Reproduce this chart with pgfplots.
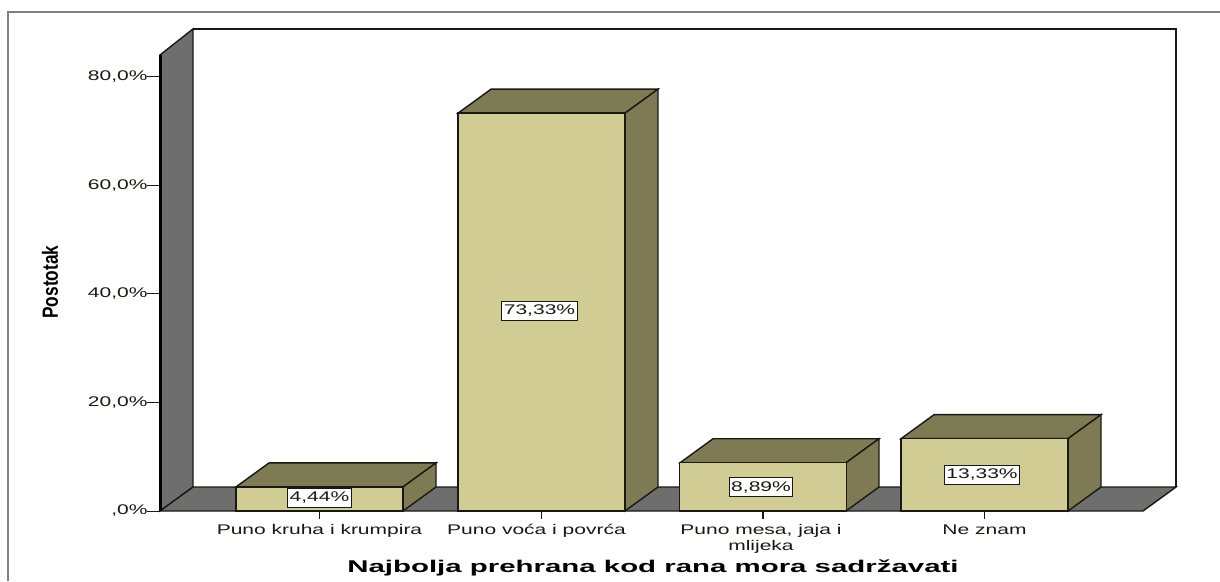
\documentclass[border=0pt]{standalone}
\usepackage{pgfplots}
\pgfplotsset{compat=1.18}
\usepackage{graphicx}
\usepackage{fontspec}
\setmainfont{Liberation Sans}
\definecolor{face}{RGB}{208,204,148}
\definecolor{dark}{RGB}{126,122,84}
\definecolor{wall}{RGB}{110,110,110}
\definecolor{frame}{RGB}{128,128,128}
\definecolor{ink}{RGB}{25,25,20}
\newcommand\sx[1]{\scalebox{1.5}[1]{#1}}
\begin{document}
\begin{tikzpicture}[x=1pt,y=1pt]
\path[use as bounding box] (0,0) rectangle (1220,581);
\draw[frame,line width=2pt] (8,0) -- (8,569) -- (1220,569);
\begin{axis}[
  at={(160pt,70pt)}, anchor=south west,
  scale only axis, width=983pt, height=456pt,
  xmin=160, xmax=1143, ymin=0, ymax=84.05,
  clip=false,
  axis line style={draw=none},
  tick align=outside, xtick pos=bottom, ytick pos=left,
  ytick={0,20,40,60,80},
  yticklabels={\sx{,0\%},\sx{20,0\%},\sx{40,0\%},\sx{60,0\%},\sx{80,0\%}},
  xtick={319.5,541.5,763,984.5},
  xticklabels={\sx{Puno kruha i krumpira},\sx{Puno voća i povrća}\hspace*{10pt},\sx{\shortstack[c]{Puno mesa, jaja i\\mlijeka}}\hspace*{4pt},\sx{Ne znam}},
  minor tick num=0,
  major tick length=13pt,
  xtick style={draw=ink,line width=1.6pt,/pgfplots/major tick length=8pt},
  ytick style={draw=ink,line width=1pt},
  tick label style={font=\fontsize{14}{13.5}\selectfont,text=ink},
  yticklabel style={xshift=4pt},
  xticklabel style={yshift=3pt,anchor=north},
  xlabel={\scalebox{1.73}[1]{\textbf{Najbolja prehrana kod rana mora sadržavati}}},
  xlabel style={at={(axis description cs:0.5015,-0.125)},anchor=center,font=\fontsize{17}{19}\selectfont},
  ylabel={\scalebox{0.786}[1.0]{\textbf{Postotak}}},
  ylabel style={at={(axis description cs:-0.112,0.502)},anchor=center,rotate=0,font=\fontsize{22}{24}\selectfont},
]
% left wall
\addplot[fill=wall,draw=ink,line width=1.4pt] coordinates {(160,0) (160,84.05) (193,88.85) (193,4.42)} -- cycle;
% floor
\addplot[fill=wall,draw=ink,line width=1.4pt] coordinates {(160,0) (1143,0) (1176,4.42) (193,4.42)} -- cycle;
% back wall edges
\addplot[draw=ink,line width=1.5pt] coordinates {(193,88.85) (1176,88.85) (1176,4.42)};
% front edge of left wall
\addplot[draw=black,line width=3pt] coordinates {(160,0) (160,84.05)};
% bars: top and side faces
\addplot[fill=dark,draw=ink,line width=1.4pt] coordinates {(236,4.44) (403,4.44) (436,8.86) (269,8.86)} -- cycle;
\addplot[fill=dark,draw=ink,line width=1.4pt] coordinates {(403,0) (403,4.44) (436,8.86) (436,4.42)} -- cycle;
\addplot[fill=dark,draw=ink,line width=1.4pt] coordinates {(458,73.33) (625,73.33) (658,77.75) (491,77.75)} -- cycle;
\addplot[fill=dark,draw=ink,line width=1.4pt] coordinates {(625,0) (625,73.33) (658,77.75) (658,4.42)} -- cycle;
\addplot[fill=dark,draw=ink,line width=1.4pt] coordinates {(680,8.89) (846,8.89) (879,13.31) (713,13.31)} -- cycle;
\addplot[fill=dark,draw=ink,line width=1.4pt] coordinates {(846,0) (846,8.89) (879,13.31) (879,4.42)} -- cycle;
\addplot[fill=dark,draw=ink,line width=1.4pt] coordinates {(901,13.33) (1068,13.33) (1101,17.75) (934,17.75)} -- cycle;
\addplot[fill=dark,draw=ink,line width=1.4pt] coordinates {(1068,0) (1068,13.33) (1101,17.75) (1101,4.42)} -- cycle;
% bars: front faces
\addplot[ybar,bar width=167pt,bar shift=0pt,fill=face,draw=ink,line width=1.4pt] coordinates {(319.5,4.44) (541.5,73.33) (763,8.89) (984.5,13.33)};
% value labels
\addplot[draw=none,mark=none,point meta=explicit symbolic,
  nodes near coords={\sx{\pgfplotspointmeta}},
  every node near coord/.append style={anchor=center,fill=white,draw=ink,line width=1pt,inner xsep=2.2pt,inner ysep=3.6pt,text=ink,font=\fontsize{14}{15}\selectfont}]
  table[meta=lab] {
x y lab
319.5 2.4 {4,44\%}
539.5 36.87 {73,33\%}
761 4.42 {8,89\%}
982 6.64 {13,33\%}
};
\end{axis}
\end{tikzpicture}
\end{document}
